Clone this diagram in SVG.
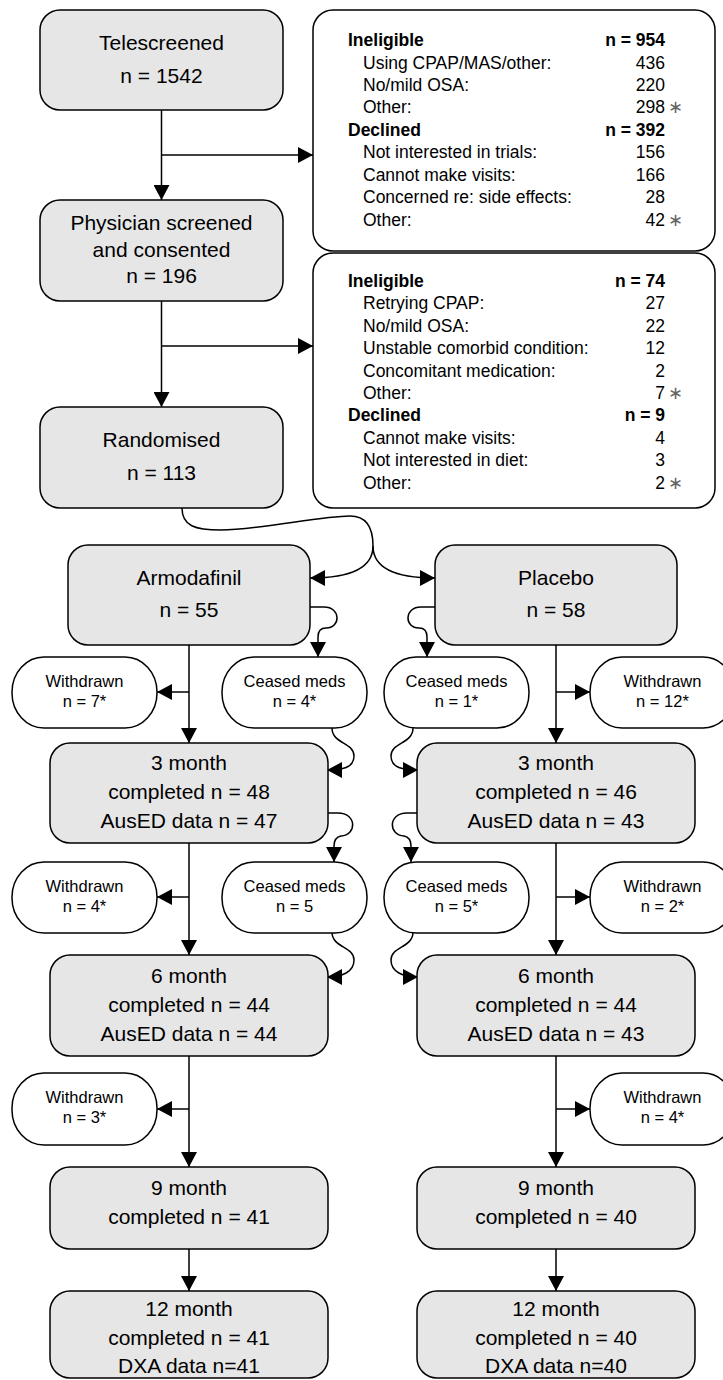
<svg xmlns="http://www.w3.org/2000/svg" width="723" height="1380" viewBox="0 0 723 1380">
<style>
.g{fill:#e6e6e6;stroke:#000;stroke-width:1.5}
.w{fill:#fff;stroke:#000;stroke-width:1.5}
.t{font-family:"Liberation Sans",Arial,sans-serif;font-size:21px;fill:#000;text-anchor:middle}
.s{font-family:"Liberation Sans",Arial,sans-serif;font-size:16.5px;fill:#000;text-anchor:middle}
.b{font-family:"Liberation Sans",Arial,sans-serif;font-size:17.5px;fill:#000}
.h{font-weight:bold}
.r{text-anchor:end}
.a{fill:#666}
.c{fill:none;stroke:#000;stroke-width:1.5;marker-end:url(#ah)}
.n{fill:none;stroke:#000;stroke-width:1.5}
</style>
<defs>
<marker id="ah" viewBox="0 0 15 16" markerWidth="15" markerHeight="16" refX="15" refY="8" orient="auto" markerUnits="userSpaceOnUse">
<path d="M0,0 L15,8 L0,16 z" fill="#000"/>
</marker>
</defs>

<g id="connectors">
<path class="c" d="M161.5,110 V200"/>
<path class="c" d="M161.5,155 H313"/>
<path class="c" d="M161.5,301 V407"/>
<path class="c" d="M161.5,346 H313"/>
<path class="n" d="M182,508 C182,526 195,530 221,530 C260,530 320,516 350,516 C368,516 373,530 373,546"/>
<path class="c" d="M373,546 C373,568 350,578 310,578"/>
<path class="c" d="M373,546 C373,568 396,578 435,578"/>
<path class="c" d="M310,607 H324 C341,607 341,628 326,628 C320,628 318,631 318,637 V657"/>
<path class="c" d="M435,607 H421 C404,607 404,628 419,628 C425,628 427,631 427,637 V657"/>
<path class="c" d="M189,645 V743"/>
<path class="c" d="M556,645 V743"/>
<path class="c" d="M189,692 H157"/>
<path class="c" d="M556,692 H590"/>
<path class="c" d="M332,728 C332,744 354,742 354,756 C354,768 342,770 327,770"/>
<path class="c" d="M413,728 C413,744 391,742 391,756 C391,768 403,770 418,770"/>
<path class="c" d="M327,813 H338 C357,813 357,835 341,836 C336,837 334,840 334,846 V862"/>
<path class="c" d="M418,813 H407 C388,813 388,835 404,836 C409,837 411,840 411,846 V862"/>
<path class="c" d="M189,843 V955"/>
<path class="c" d="M556,843 V955"/>
<path class="c" d="M189,897 H157"/>
<path class="c" d="M556,897 H590"/>
<path class="c" d="M332,932 C332,948 354,946 354,960 C354,972 342,977 327,977"/>
<path class="c" d="M413,932 C413,948 391,946 391,960 C391,972 403,977 418,977"/>
<path class="c" d="M189,1056 V1167"/>
<path class="c" d="M556,1056 V1167"/>
<path class="c" d="M189,1109 H157"/>
<path class="c" d="M556,1109 H590"/>
<path class="c" d="M189,1249 V1291"/>
<path class="c" d="M556,1249 V1291"/>
</g>

<g id="telescreened">
<rect class="g" x="40" y="10" width="243" height="100" rx="20"/>
<text class="t" x="161.5" y="50">Telescreened</text>
<text class="t" x="161.5" y="83">n = 1542</text>
</g>
<g id="physician">
<rect class="g" x="40" y="200" width="243" height="101" rx="20"/>
<text class="t" x="161.5" y="230">Physician screened</text>
<text class="t" x="161.5" y="257">and consented</text>
<text class="t" x="161.5" y="283">n = 196</text>
</g>
<g id="randomised">
<rect class="g" x="40" y="407" width="243" height="101" rx="20"/>
<text class="t" x="161.5" y="447">Randomised</text>
<text class="t" x="161.5" y="480">n = 113</text>
</g>

<g id="excluded1">
<rect class="w" x="313" y="10" width="402" height="241" rx="20"/>
<text class="b h" x="348" y="46">Ineligible</text><text class="b h r" x="665" y="46">n = 954</text>
<text class="b" x="363" y="68.5">Using CPAP/MAS/other:</text><text class="b r" x="665" y="68.5">436</text>
<text class="b" x="363" y="91">No/mild OSA:</text><text class="b r" x="665" y="91">220</text>
<text class="b" x="363" y="113.3">Other:</text><text class="b r" x="665" y="113.3">298</text><text class="b a" x="668" y="113.3">∗</text>
<text class="b h" x="348" y="135.8">Declined</text><text class="b h r" x="665" y="135.8">n = 392</text>
<text class="b" x="363" y="158.2">Not interested in trials:</text><text class="b r" x="665" y="158.2">156</text>
<text class="b" x="363" y="180.7">Cannot make visits:</text><text class="b r" x="665" y="180.7">166</text>
<text class="b" x="363" y="203.1">Concerned re: side effects:</text><text class="b r" x="665" y="203.1">28</text>
<text class="b" x="363" y="225.6">Other:</text><text class="b r" x="665" y="225.6">42</text><text class="b a" x="668" y="225.6">∗</text>
</g>

<g id="excluded2">
<rect class="w" x="313" y="253" width="402" height="255" rx="20"/>
<text class="b h" x="348" y="287">Ineligible</text><text class="b h r" x="665" y="287">n = 74</text>
<text class="b" x="363" y="309.4">Retrying CPAP:</text><text class="b r" x="665" y="309.4">27</text>
<text class="b" x="363" y="331.8">No/mild OSA:</text><text class="b r" x="665" y="331.8">22</text>
<text class="b" x="363" y="354.2">Unstable comorbid condition:</text><text class="b r" x="665" y="354.2">12</text>
<text class="b" x="363" y="376.6">Concomitant medication:</text><text class="b r" x="665" y="376.6">2</text>
<text class="b" x="363" y="399">Other:</text><text class="b r" x="665" y="399">7</text><text class="b a" x="668" y="399">∗</text>
<text class="b h" x="348" y="421.4">Declined</text><text class="b h r" x="665" y="421.4">n = 9</text>
<text class="b" x="363" y="443.8">Cannot make visits:</text><text class="b r" x="665" y="443.8">4</text>
<text class="b" x="363" y="466.2">Not interested in diet:</text><text class="b r" x="665" y="466.2">3</text>
<text class="b" x="363" y="488.6">Other:</text><text class="b r" x="665" y="488.6">2</text><text class="b a" x="668" y="488.6">∗</text>
</g>

<g id="armodafinil">
<rect class="g" x="68" y="545" width="242" height="100" rx="20"/>
<text class="t" x="189" y="585">Armodafinil</text>
<text class="t" x="189" y="617">n = 55</text>
</g>
<g id="placebo">
<rect class="g" x="435" y="545" width="242" height="100" rx="20"/>
<text class="t" x="556" y="585">Placebo</text>
<text class="t" x="556" y="617">n = 58</text>
</g>

<g id="withdrawn-a1">
<rect class="w" x="12" y="657" width="145" height="71" rx="32" ry="35"/>
<text class="s" x="84.5" y="687">Withdrawn</text><text class="s" x="84.5" y="707">n = 7*</text>
</g>
<g id="ceased-a1">
<rect class="w" x="222" y="657" width="145" height="71" rx="32" ry="35"/>
<text class="s" x="294.5" y="687">Ceased meds</text><text class="s" x="294.5" y="707">n = 4*</text>
</g>
<g id="ceased-p1">
<rect class="w" x="384" y="657" width="145" height="71" rx="32" ry="35"/>
<text class="s" x="456.5" y="687">Ceased meds</text><text class="s" x="456.5" y="707">n = 1*</text>
</g>
<g id="withdrawn-p1">
<rect class="w" x="590" y="657" width="145" height="71" rx="32" ry="35"/>
<text class="s" x="662.5" y="687">Withdrawn</text><text class="s" x="662.5" y="707">n = 12*</text>
</g>

<g id="month3-a">
<rect class="g" x="50" y="743" width="278" height="100" rx="20"/>
<text class="t" x="189" y="770">3 month</text>
<text class="t" x="189" y="799">completed n = 48</text>
<text class="t" x="189" y="828">AusED data n = 47</text>
</g>
<g id="month3-p">
<rect class="g" x="417" y="743" width="278" height="100" rx="20"/>
<text class="t" x="556" y="770">3 month</text>
<text class="t" x="556" y="799">completed n = 46</text>
<text class="t" x="556" y="828">AusED data n = 43</text>
</g>

<g id="withdrawn-a2">
<rect class="w" x="12" y="862" width="145" height="71" rx="32" ry="35"/>
<text class="s" x="84.5" y="892">Withdrawn</text><text class="s" x="84.5" y="912">n = 4*</text>
</g>
<g id="ceased-a2">
<rect class="w" x="222" y="862" width="145" height="71" rx="32" ry="35"/>
<text class="s" x="294.5" y="892">Ceased meds</text><text class="s" x="294.5" y="912">n = 5</text>
</g>
<g id="ceased-p2">
<rect class="w" x="384" y="862" width="145" height="71" rx="32" ry="35"/>
<text class="s" x="456.5" y="892">Ceased meds</text><text class="s" x="456.5" y="912">n = 5*</text>
</g>
<g id="withdrawn-p2">
<rect class="w" x="590" y="862" width="145" height="71" rx="32" ry="35"/>
<text class="s" x="662.5" y="892">Withdrawn</text><text class="s" x="662.5" y="912">n = 2*</text>
</g>

<g id="month6-a">
<rect class="g" x="50" y="955" width="278" height="101" rx="20"/>
<text class="t" x="189" y="983">6 month</text>
<text class="t" x="189" y="1012">completed n = 44</text>
<text class="t" x="189" y="1041">AusED data n = 44</text>
</g>
<g id="month6-p">
<rect class="g" x="417" y="955" width="278" height="101" rx="20"/>
<text class="t" x="556" y="983">6 month</text>
<text class="t" x="556" y="1012">completed n = 44</text>
<text class="t" x="556" y="1041">AusED data n = 43</text>
</g>

<g id="withdrawn-a3">
<rect class="w" x="12" y="1073" width="145" height="72" rx="32" ry="35"/>
<text class="s" x="84.5" y="1103">Withdrawn</text><text class="s" x="84.5" y="1123">n = 3*</text>
</g>
<g id="withdrawn-p3">
<rect class="w" x="590" y="1073" width="145" height="72" rx="32" ry="35"/>
<text class="s" x="662.5" y="1103">Withdrawn</text><text class="s" x="662.5" y="1123">n = 4*</text>
</g>

<g id="month9-a">
<rect class="g" x="50" y="1167" width="278" height="82" rx="20"/>
<text class="t" x="189" y="1195">9 month</text>
<text class="t" x="189" y="1224">completed n = 41</text>
</g>
<g id="month9-p">
<rect class="g" x="417" y="1167" width="278" height="82" rx="20"/>
<text class="t" x="556" y="1195">9 month</text>
<text class="t" x="556" y="1224">completed n = 40</text>
</g>

<g id="month12-a">
<rect class="g" x="50" y="1291" width="278" height="87" rx="20"/>
<text class="t" x="189" y="1316">12 month</text>
<text class="t" x="189" y="1345">completed n = 41</text>
<text class="t" x="189" y="1373">DXA data n=41</text>
</g>
<g id="month12-p">
<rect class="g" x="417" y="1291" width="278" height="87" rx="20"/>
<text class="t" x="556" y="1316">12 month</text>
<text class="t" x="556" y="1345">completed n = 40</text>
<text class="t" x="556" y="1373">DXA data n=40</text>
</g>
</svg>
